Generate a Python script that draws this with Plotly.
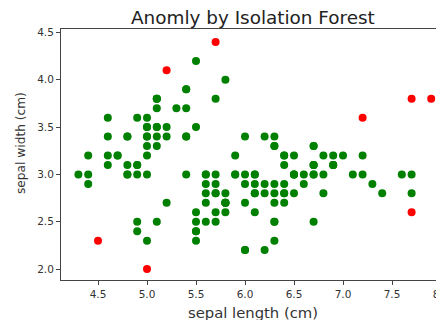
import plotly.graph_objects as go

# Iris dataset: sepal length / sepal width (cm)
sepal_length = [
    5.1, 4.9, 4.7, 4.6, 5.0, 5.4, 4.6, 5.0, 4.4, 4.9, 5.4, 4.8, 4.8, 4.3, 5.8, 5.7, 5.4, 5.1, 5.7, 5.1,
    5.4, 5.1, 4.6, 5.1, 4.8, 5.0, 5.0, 5.2, 5.2, 4.7, 4.8, 5.4, 5.2, 5.5, 4.9, 5.0, 5.5, 4.9, 4.4, 5.1,
    5.0, 4.5, 4.4, 5.0, 5.1, 4.8, 5.1, 4.6, 5.3, 5.0,
    7.0, 6.4, 6.9, 5.5, 6.5, 5.7, 6.3, 4.9, 6.6, 5.2, 5.0, 5.9, 6.0, 6.1, 5.6, 6.7, 5.6, 5.8, 6.2, 5.6,
    5.9, 6.1, 6.3, 6.1, 6.4, 6.6, 6.8, 6.7, 6.0, 5.7, 5.5, 5.5, 5.8, 6.0, 5.4, 6.0, 6.7, 6.3, 5.6, 5.5,
    5.5, 6.1, 5.8, 5.0, 5.6, 5.7, 5.7, 6.2, 5.1, 5.7,
    6.3, 5.8, 7.1, 6.3, 6.5, 7.6, 4.9, 7.3, 6.7, 7.2, 6.5, 6.4, 6.8, 5.7, 5.8, 6.4, 6.5, 7.7, 7.7, 6.0,
    6.9, 5.6, 7.7, 6.3, 6.7, 7.2, 6.2, 6.1, 6.4, 7.2, 7.4, 7.9, 6.4, 6.3, 6.1, 7.7, 6.3, 6.4, 6.0, 6.9,
    6.7, 6.9, 5.8, 6.8, 6.7, 6.7, 6.3, 6.5, 6.2, 5.9,
]
sepal_width = [
    3.5, 3.0, 3.2, 3.1, 3.6, 3.9, 3.4, 3.4, 2.9, 3.1, 3.7, 3.4, 3.0, 3.0, 4.0, 4.4, 3.9, 3.5, 3.8, 3.8,
    3.4, 3.7, 3.6, 3.3, 3.4, 3.0, 3.4, 3.5, 3.4, 3.2, 3.1, 3.4, 4.1, 4.2, 3.1, 3.2, 3.5, 3.6, 3.0, 3.4,
    3.5, 2.3, 3.2, 3.5, 3.8, 3.0, 3.8, 3.2, 3.7, 3.3,
    3.2, 3.2, 3.1, 2.3, 2.8, 2.8, 3.3, 2.4, 2.9, 2.7, 2.0, 3.0, 2.2, 2.9, 2.9, 3.1, 3.0, 2.7, 2.2, 2.5,
    3.2, 2.8, 2.5, 2.8, 2.9, 3.0, 2.8, 3.0, 2.9, 2.6, 2.4, 2.4, 2.7, 2.7, 3.0, 3.4, 3.1, 2.3, 3.0, 2.5,
    2.6, 3.0, 2.6, 2.3, 2.7, 3.0, 2.9, 2.9, 2.5, 2.8,
    3.3, 2.7, 3.0, 2.9, 3.0, 3.0, 2.5, 2.9, 2.5, 3.6, 3.2, 2.7, 3.0, 2.5, 2.8, 3.2, 3.0, 3.8, 2.6, 2.2,
    3.2, 2.8, 2.8, 2.7, 3.3, 3.2, 2.8, 3.0, 2.8, 3.0, 2.8, 3.8, 2.8, 2.8, 2.6, 3.0, 3.4, 3.1, 3.0, 3.1,
    3.1, 3.1, 2.7, 3.2, 3.3, 3.0, 2.5, 3.0, 3.4, 3.0,
]
# Isolation Forest anomalies (sepal length, sepal width)
anomaly_points = [(5.7, 4.4), (5.2, 4.1), (4.5, 2.3), (5.0, 2.0), (7.2, 3.6), (7.7, 3.8), (7.9, 3.8), (7.7, 2.6)]

x_ticks = [4.5, 5.0, 5.5, 6.0, 6.5, 7.0, 7.5, 8.0]
y_ticks = [2.0, 2.5, 3.0, 3.5, 4.0, 4.5]

title_text = "Anomly by Isolation Forest"
x_label = "sepal length (cm)"
y_label = "sepal width (cm)"

anom_set = set(anomaly_points)
colors = ["red" if (a, b) in anom_set else "green" for a, b in zip(sepal_length, sepal_width)]

FONT = "DejaVu Sans"
TXT = "#333333"

# plot area in figure pixels (page is offset by the 8px body margin)
L, R, T, B = 53, 441, 21, 272
W, H = 444, 320
PW, PH = R - L, B - T

fig = go.Figure()
fig.add_trace(go.Scatter(
    x=sepal_length, y=sepal_width, mode="markers",
    marker=dict(color=colors, size=8, line=dict(width=0)),
    showlegend=False, hoverinfo="x+y",
))

fig.update_layout(
    width=W, height=H,
    margin=dict(l=L, r=W - R, t=T, b=H - B),
    plot_bgcolor="white", paper_bgcolor="white",
    font=dict(family=FONT, color=TXT, size=11),
    showlegend=False,
    xaxis=dict(
        range=[4.1224, 8.0816], tickvals=x_ticks, ticktext=[f"{v:.1f}" for v in x_ticks],
        showgrid=False, zeroline=False, showline=True, linecolor="#444444", linewidth=1,
        mirror=True, ticks="outside", ticklen=4, tickcolor="#444444", tickwidth=1,
        tickfont=dict(size=10.5, color=TXT, family=FONT),
    ),
    yaxis=dict(
        range=[1.884, 4.537], tickvals=y_ticks, ticktext=[f"{v:.1f}" for v in y_ticks],
        showgrid=False, zeroline=False, showline=True, linecolor="#444444", linewidth=1,
        mirror=True, ticks="outside", ticklen=4, tickcolor="#444444", tickwidth=1,
        tickfont=dict(size=10.5, color=TXT, family=FONT),
    ),
    annotations=[
        dict(text=title_text, xref="paper", yref="paper", x=(245 - L) / PW, y=1 + (T - 9) / PH,
             xanchor="center", yanchor="middle", showarrow=False,
             font=dict(size=18.4, color="#222222", family=FONT)),
        dict(text=x_label, xref="paper", yref="paper", x=(245 - L) / PW, y=-(304 - B) / PH,
             xanchor="center", yanchor="middle", showarrow=False,
             font=dict(size=14.8, color=TXT, family=FONT)),
        dict(text=y_label, xref="paper", yref="paper", x=-(L - 13) / PW, y=(B - 135) / PH,
             xanchor="center", yanchor="middle", showarrow=False, textangle=-90,
             font=dict(size=12.2, color=TXT, family=FONT)),
    ],
)

fig.write_html("out.html")
